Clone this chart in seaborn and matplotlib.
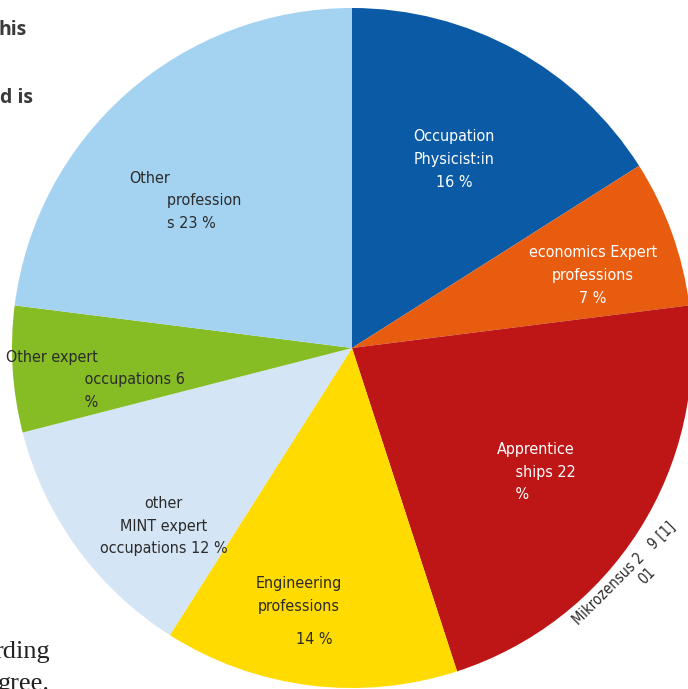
import matplotlib
matplotlib.use("Agg")
import matplotlib.pyplot as plt
import seaborn as sns
import numpy as np

# ---- data ----
categories = ["Occupation Physicist:in", "economics Expert professions", "Apprenticeships",
              "Engineering professions", "other MINT expert occupations",
              "Other expert occupations", "Other professions"]
shares = [16, 7, 22, 14, 12, 6, 23]
label_texts = [
    "Occupation\nPhysicist:in\n16 %",
    "economics Expert\nprofessions\n7 %",
    "Apprentice\n    ships 22\n    %",
    "Engineering\nprofessions",
    "other\nMINT expert\noccupations 12 %",
    "Other expert\n                 occupations 6\n                 %",
    "Other\n        profession\n        s 23 %",
]
extra_label = "14 %"
source_main = "Mikrozensus 2   9 [1]"
source_sub = "01"
colors = ["#0B5AA5", "#E85C10", "#BE1616", "#FFDB00", "#D4E5F6", "#86BC24", "#A4D3F2"]
text_colors = ["white", "white", "white", "#2b2b2b", "#2b2b2b", "#2b2b2b", "#2b2b2b"]
# layout of labels (radius fraction, angle in degrees)
label_layout = [(0.63, 61.5), (0.74, 16.8), (0.653, -34.0), (0.743, -102.1),
                (0.762, -136.6), (0.759, -172.9), (0.654, 138.6)]

sns.set_theme(style="white")
plt.rcParams['font.family'] = ['DejaVu Sans']

W, H = 688, 689
fig = plt.figure(figsize=(W / 100, H / 100), dpi=100)
ax = fig.add_axes([0, 0, 1, 1])
cx, cy, R = 352, 348, 340

wedges, _ = ax.pie(shares, colors=colors, startangle=90, counterclock=False,
                   radius=1.0, center=(0, 0), wedgeprops=dict(linewidth=0),
                   frame=False)
ax.set_xlim(-cx / R, (W - cx) / R)
ax.set_ylim(-(H - cy) / R, cy / R)
ax.set_aspect('auto')
ax.axis('off')

fs = 11.5
kw = dict(fontstretch='condensed')
for txt, col, (r, a) in zip(label_texts, text_colors, label_layout):
    x, y = r * np.cos(np.radians(a)), r * np.sin(np.radians(a))
    ax.text(x, y, txt, color=col, fontsize=fs, ha='center', va='center',
            multialignment='left' if txt.count('  ') else 'center', linespacing=1.65, **kw)

# yellow percentage placed below its label
r, a = label_layout[3]
ax.annotate(extra_label, xy=(r * np.cos(np.radians(a)), r * np.sin(np.radians(a))),
            xytext=(15, -44), textcoords='offset pixels', ha='center', va='center',
            fontsize=fs, color=text_colors[3], **kw)

# source note rotated along the rim
ax.text((624 - cx) / R, (cy - 573) / R, source_main, rotation=45, fontsize=10.5,
        color='#2b2b2b', ha='center', va='center', rotation_mode='anchor', **kw)
ax.text((647 - cx) / R, (cy - 576) / R, source_sub, rotation=45, fontsize=10.5,
        color='#2b2b2b', ha='center', va='center', rotation_mode='anchor', **kw)

# fragments of surrounding page text
fig.text(27 / W, 1 - 30 / H, "his", ha='right', va='center', fontsize=14,
         fontweight='bold', color='#3a3a3a', family=['Open Sans', 'DejaVu Sans'])
fig.text(33 / W, 1 - 98 / H, "d is", ha='right', va='center', fontsize=14,
         fontweight='bold', color='#3a3a3a', family=['Open Sans', 'DejaVu Sans'])
fig.text(50 / W, 1 - 652 / H, "rding", ha='right', va='center', fontsize=19,
         color='#222222', family=['Liberation Serif', 'DejaVu Serif'])
fig.text(50 / W, 1 - 684 / H, "gree.", ha='right', va='center', fontsize=19,
         color='#222222', family=['Liberation Serif', 'DejaVu Serif'])

fig.savefig("out.png", dpi=100)
